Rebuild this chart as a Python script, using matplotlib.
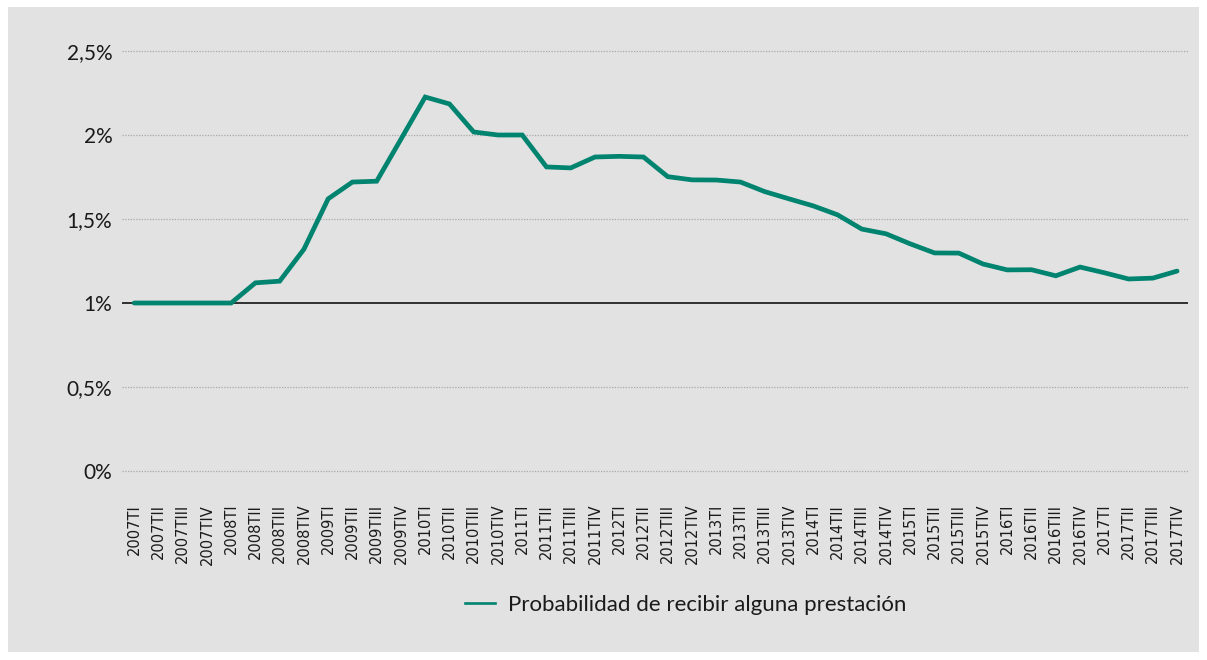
import numpy as np
import matplotlib.pyplot as plt
from matplotlib.patches import Rectangle
from matplotlib.ticker import FuncFormatter
from matplotlib.lines import Line2D

plt.rcParams['font.family'] = ['Lato', 'DejaVu Sans']

# Quarterly series, 2007TI .. 2017TIV
years = list(range(2007, 2018))
quarters = ['TI', 'TII', 'TIII', 'TIV']
periods = [f'{y}{q}' for y in years for q in quarters]

# Probability of receiving some benefit, in percent
prob = [1.00, 1.00, 1.00, 1.00,
        1.00, 1.12, 1.13, 1.32,
        1.62, 1.72, 1.725, 1.975,
        2.226, 2.185, 2.018, 2.00,
        2.00, 1.81, 1.804, 1.869,
        1.873, 1.869, 1.752, 1.733,
        1.732, 1.72, 1.663, 1.62,
        1.578, 1.525, 1.44, 1.412,
        1.352, 1.298, 1.297, 1.232,
        1.197, 1.198, 1.162, 1.214,
        1.18, 1.143, 1.148, 1.19]

y_ticks = [0, 0.5, 1, 1.5, 2, 2.5]
series_label = 'Probabilidad de recibir alguna prestación'
teal = '#00836f'

W, H = 1207, 660
fig = plt.figure(figsize=(W / 100, H / 100), dpi=100)
fig.patch.set_facecolor('white')
fig.patches.append(Rectangle((8 / W, 1 - 652 / H), (1199 - 8) / W, (652 - 7) / H,
                             transform=fig.transFigure, facecolor='#e2e2e2',
                             edgecolor='none', zorder=-5))

ax = fig.add_axes([122 / W, 1 - 476.04 / H, (1188 - 122) / W, (476.04 - 45.96) / H])
ax.set_facecolor('none')

x = np.arange(len(periods))
ax.plot(x, prob, color=teal, linewidth=3.4, solid_joinstyle='miter',
        solid_capstyle='round', zorder=3)

ax.set_xlim(-0.5, len(periods) - 1 + 0.45)
ax.set_ylim(-0.03, 2.53)

for v in y_ticks:
    if v == 1:
        ax.axhline(v, color='black', linewidth=1.1, zorder=2)
    else:
        ax.axhline(v, color='#a8a8a8', linewidth=0.9, linestyle=(0, (1, 1.2)), zorder=1)

ax.set_yticks(y_ticks)
ax.yaxis.set_major_formatter(FuncFormatter(
    lambda v, _: (f'{v:g}'.replace('.', ',')) + '%'))
ax.tick_params(axis='y', length=0, pad=7, labelsize=15, labelcolor='#1a1a1a')

ax.set_xticks(x)
ax.set_xticklabels(periods, rotation=90, va='top', ha='center',
                   family=['Liberation Sans Narrow', 'DejaVu Sans'], fontsize=10.5,
                   color='#1a1a1a')
ax.tick_params(axis='x', length=0, pad=20)

for s in ax.spines.values():
    s.set_visible(False)

handle = Line2D([], [], color=teal, linewidth=1.9)
leg = fig.legend([handle], [series_label], loc='center',
                 bbox_to_anchor=(686 / W, 1 - 605 / H), frameon=False,
                 fontsize=16, handlelength=1.35, handletextpad=0.6)
for t in leg.get_texts():
    t.set_color('#1a1a1a')

fig.savefig('out.png', dpi=100)
